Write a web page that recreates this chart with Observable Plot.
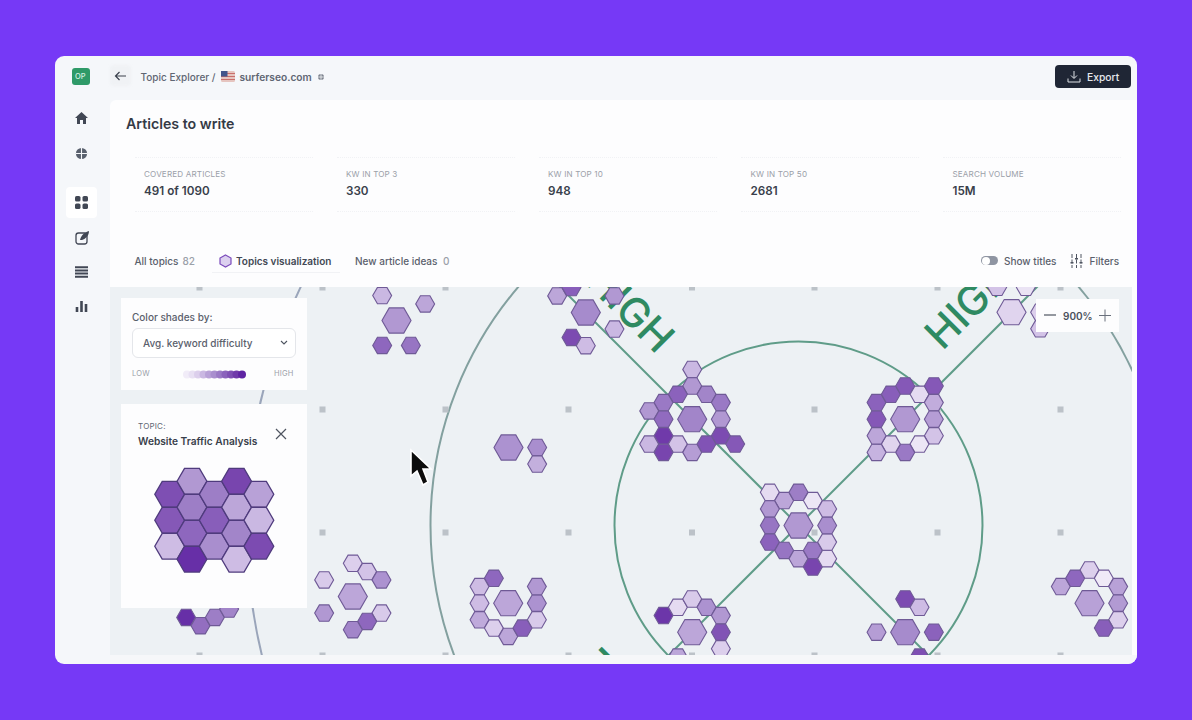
<!DOCTYPE html>
<html><head><meta charset="utf-8">
<script src="https://cdn.jsdelivr.net/npm/d3@7"></script>
<script src="https://cdn.jsdelivr.net/npm/@observablehq/plot@0.6"></script>
<style>
html,body{margin:0;padding:0;width:1192px;height:720px;overflow:hidden;background:#7639f6;font-family:Inter,sans-serif;color:#343a46}
.abs{position:absolute;white-space:nowrap}
svg{display:block}
</style></head><body>
<div id="root"></div>
<script>
// ---------- data ----------
const statNames = ["COVERED ARTICLES","KW IN TOP 3","KW IN TOP 10","KW IN TOP 50","SEARCH VOLUME"];
const statValues = ["491 of 1090","330","948","2681","15M"];
const gridX = [-599,-476,-353,-230,-106.5,16,139,262];
const gridY = [-238,-116,7,130];
const ringRadius = [1,2,3];
const spokeEnds = [[-320,-320],[320,-320],[-320,320],[320,320]];
const highLabels = [[-169,-216,45],[171,-220,-45],[-219,167,-45]];

const hubNames = ["A","B","C","D","E","F","G","H","I","J","K","L","M"];
const hubX = [-106.3,106.7,0,-106.3,-290.3,291,106.7,-290,-402,-445.7,-598,-212.7,213];
const hubY = [-106.3,-106.3,0,106.7,77.7,77.7,106.7,-78,-205,71,67,-213,-213.3];
const hubDifficulty = [55,45,45,38,38,40,52,48,45,38,50,52,18];
// each member: column offset, half-row offset, avg. keyword difficulty
const memberA = [[0,-6,30],[0,-4,45],[-1,-3,70],[1,-3,55],[-2,-2,60],[2,-2,60],[-3,-1,45],[-2,0,66],[2,0,45],[-2,2,90],[2,2,82],[-3,3,30],[-1,3,25],[1,3,78],[3,3,75],[-2,4,85],[0,4,42]];
const memberB = [[-2,-2,70],[-1,-3,72],[0,-4,75],[1,-3,15],[2,-4,75],[2,-2,35],[2,0,42],[2,2,25],[1,3,8],[0,4,60],[-1,3,18],[-2,4,32],[-2,2,38],[-2,0,75]];
const memberC = [[-2,-4,15],[-1,-3,38],[0,-4,58],[1,-3,8],[2,-2,28],[-2,-2,45],[-2,0,62],[-2,2,70],[-1,3,62],[0,4,38],[1,3,60],[1,5,85],[2,4,15],[2,2,22],[2,0,50]];
const memberD = [[-2,-2,92],[-1,-3,15],[0,-4,22],[1,-3,48],[2,-2,45],[2,0,78],[2,2,20],[-1,3,38],[2,4,22]];
const memberE = [[-1,-3,68],[-2,-2,28],[-2,0,28],[-2,2,36],[-1,3,20],[0,4,38],[1,3,72],[2,2,22],[2,0,48],[2,-2,45]];
const memberF = [[-2,-2,38],[-1,-3,68],[0,-4,20],[1,-3,5],[2,-2,40],[2,0,44],[2,2,20],[1,3,72]];
const memberG = [[0,-4,82],[1,-3,28],[-2,0,42],[2,0,70],[1,3,80]];
const memberH = [[2,0,50],[2,2,34]];
const memberI = [[-1,-3,30],[2,-2,38],[-1,3,68],[1,3,62]];
const memberJ = [[0,-4,20],[1,-3,25],[2,-2,48],[-2,-2,22],[-2,2,45],[2,2,22],[1,3,68],[0,4,55]];
const memberK = [[-1,3,95],[0,4,65],[1,3,58],[2,2,55]];
const memberL = [[-2,-2,38],[-1,-3,72],[2,-2,45],[2,2,30],[-1,3,82],[0,4,28]];
const memberM = [[-1,-3,25],[1,-3,10],[2,0,20],[2,2,25]];
const hubMembers = [memberA,memberB,memberC,memberD,memberE,memberF,memberG,memberH,memberI,memberJ,memberK,memberL,memberM];

// selected topic: column, half-row, difficulty
const topicCells = [[-2,-2,80],[-2,0,75],[-2,2,28],[-1,-3,45],[-1,-1,58],[-1,1,68],[-1,3,95],[0,-2,58],[0,0,72],[0,2,50],[1,-3,85],[1,-1,38],[1,1,55],[1,3,28],[2,-2,40],[2,0,30],[2,2,82]];
const legendSteps = [4,12,20,30,40,50,60,70,80,90,100];
const legendIndex = [0,1,2,3,4,5,6,7,8,9,10];

const diffDomain = [0,15,25,40,55,70,85,100];
const diffRange = ["#f5f2fa","#e5dbf1","#d3c3e7","#b8a1d7","#a285c9","#8b62bc","#7845ae","#5f24a3"];
const colorScale = {type:"linear",domain:diffDomain,range:diffRange};

const stepX = 14.33, stepY = 8.3;
const hubs = hubNames.map((n,i)=>({name:n,x:hubX[i],y:hubY[i],d:hubDifficulty[i]}));
const members = hubNames.flatMap((n,i)=>hubMembers[i].map(([q,r,d])=>({x:hubX[i]+q*stepX,y:hubY[i]+r*stepY,d})));
const grid = gridX.flatMap(x=>gridY.map(y=>({x,y})));
const spokes = spokeEnds.map(([x,y])=>({x,y}));
const rings = ringRadius.map((k,i)=>({k,stroke:["#5f9c88","#83a09f","#9aa5ba"][i]}));

// ---------- page chrome ----------
const root = document.getElementById("root");
function box(l,t,w,h,css,parent){const e=document.createElement("div");e.className="abs";e.style.cssText+=`left:${l}px;top:${t}px;width:${w}px;height:${h}px;${css||""}`;(parent||root).appendChild(e);return e;}
function txt(s,l,cy,size,weight,color,css){const e=document.createElement("div");e.className="abs";e.textContent=s;e.style.cssText+=`left:${l}px;top:${cy-10}px;height:20px;line-height:20px;font-size:${size}px;font-weight:${weight};color:${color};${css||""}`;root.appendChild(e);return e;}
function icon(l,t,w,h,inner){const e=document.createElement("div");e.className="abs";e.style.cssText+=`left:${l}px;top:${t}px;width:${w}px;height:${h}px;z-index:5`;e.innerHTML=`<svg width="${w}" height="${h}" viewBox="0 0 ${w} ${h}">${inner}</svg>`;root.appendChild(e);return e;}

box(55,56,1082,608,"background:#f5f7fa;border-radius:9px;");
box(110,100,1027,555,"background:#fdfdfe;border-top-left-radius:6px;");
box(110,655,1027,9,"background:#f6f7f9;border-bottom-right-radius:9px");

// sidebar
box(72,68,18,17,"background:#2f9a68;border-radius:3px;");
txt("OP",75,76.5,7.5,500,"#d6f0e3");
icon(74,111,15,14,'<path d="M7.5 1 L14 7 H12 V13 H9 V9 H6 V13 H3 V7 H1Z" fill="#414754"/>');
icon(74,146,15,15,'<circle cx="7.5" cy="7.5" r="5.6" fill="#59606d"/><path d="M2 7.5H13M7.5 2V13" stroke="#f5f7f9" stroke-width="1.1"/>');
box(66,187,31,31,"background:#fff;border-radius:4px;");
icon(75,196,13,13,'<rect x="0" y="0" width="5.5" height="5.5" rx="1.6" fill="#414754"/><rect x="7.5" y="0" width="5.5" height="5.5" rx="1.6" fill="#414754"/><rect x="0" y="7.5" width="5.5" height="5.5" rx="1.6" fill="#414754"/><rect x="7.5" y="7.5" width="5.5" height="5.5" rx="1.6" fill="#414754"/>');
icon(75,230,14,15,'<rect x="1" y="3" width="11" height="11" rx="2.5" fill="none" stroke="#414754" stroke-width="1.3"/><path d="M5 10 C6 5 10 2 14 1 C14 6 10 9 7 10Z" fill="#414754"/>');
icon(75,266,13,12,'<path d="M0 1.2H13M0 4.4H13M0 7.6H13M0 10.8H13" stroke="#414754" stroke-width="2"/>');
icon(75,300,13,12,'<path d="M2 12V7M6.5 12V1M11 12V4" stroke="#414754" stroke-width="2.6"/>');

// top bar
box(110,65,21,21,"background:#f0f2f5;border-radius:4px;filter:blur(1px)");
icon(114,71,13,10,'<path d="M12 5H1.5M5.5 1 L1.5 5 L5.5 9" fill="none" stroke="#3a404c" stroke-width="1.2"/>');
txt("Topic Explorer /",140.5,76.5,10,500,"#5f6673");
icon(221,71,14,11,'<rect width="14" height="11" rx="1.5" fill="#e6c5c0"/><path d="M0 2.5H14M0 5.5H14M0 8.5H14" stroke="#c96f6b" stroke-width="1"/><rect width="6.5" height="5.5" fill="#41558c"/>');
txt("surferseo.com",239.5,76.5,10.2,600,"#5f6673");
icon(317,73,8,8,'<circle cx="4" cy="4" r="3" fill="#7d838e"/><path d="M0.5 4H7.5M4 .5V7.5" stroke="#f5f7f9" stroke-width=".8"/>');
box(1055,65,76,23,"background:#1f2635;border-radius:4px;");
icon(1067,70,14,13,'<path d="M7 1V8M4 5.5 L7 8.5 L10 5.5M1 8.5V12H13V8.5" fill="none" stroke="#dfe2e7" stroke-width="1"/>');
txt("Export",1087,76.5,10.3,500,"#e7e9ed");

// header of content
txt("Articles to write",126,124,14.2,600,"#343a46");
const statX = [144,346,548,750.5,952.5];
statNames.forEach((n,i)=>{
  txt(n,statX[i],174,8.1,400,"#9ba0a9","letter-spacing:.15px");
  txt(statValues[i],statX[i],190.5,11.7,600,"#393f4b");
});
[[135,178],[337,178],[539,178],[741,178],[943,178]].forEach(([l,w])=>{
  box(l,157,w,0,"border-top:1px dotted #f1f2f5");
  box(l,211,w,0,"border-top:1px dotted #f1f2f5");
});

// tabs
txt("All topics",134.5,260.5,10,500,"#5a606c");
txt("82",182.5,260.5,10,500,"#9ba0a9");
icon(219,254,13,14,'<path d="M6.5 1 L12 4 V10 L6.5 13 L1 10 V4Z" fill="#dcd0ef" stroke="#7b4bbb" stroke-width="1.2"/>');
txt("Topics visualization",236,260.5,10,600,"#424854");
box(212,272,128,0,"border-top:1px solid #f1f2f5");
txt("New article ideas",355,260.5,10,500,"#5a606c");
txt("0",443,260.5,10,500,"#9ba0a9");
box(981,256,17,9,"background:#8f95a2;border-radius:5px;");
box(981.5,256.5,8,8,"background:#fff;border-radius:50%;");
txt("Show titles",1004,260.5,10,500,"#5a606c");
icon(1070,254,13,14,'<path d="M2 0V14M6.5 0V14M11 0V14" stroke="#4e5460" stroke-width="1" stroke-dasharray="4 1.5"/><rect x="0.5" y="8" width="3" height="1.5" fill="#4e5460"/><rect x="5" y="4" width="3" height="1.5" fill="#4e5460"/><rect x="9.5" y="8" width="3" height="1.5" fill="#4e5460"/>');
txt("Filters",1089.5,260.5,10,500,"#5a606c");

// ---------- the map ----------
const map = Plot.plot({
  width:1022,height:368,margin:0,
  x:{domain:[-688,334],axis:null},
  y:{domain:[130,-238],axis:null},
  r:{type:"linear",domain:[0,3],range:[0,552]},
  color:colorScale,
  style:{background:"#edf1f4",overflow:"hidden"},
  marks:[
    Plot.dot(rings,{x:()=>0,y:()=>0,r:"k",stroke:"stroke",strokeWidth:2,fill:"none",clip:true}),
    Plot.link(spokes,{x1:()=>0,y1:()=>0,x2:"x",y2:"y",stroke:"#5f9c88",strokeWidth:2,clip:true}),
    Plot.dot(grid,{x:"x",y:"y",symbol:"square",r:3.4,fill:"#bcc2c8",clip:true}),
    Plot.text(highLabels,{x:d=>d[0],y:d=>d[1],rotate:d=>d[2],text:()=>"HIGH",fontSize:41,fontWeight:500,fontFamily:"Inter",fill:"#2f8a62",clip:true}),
    Plot.dot(hubs,{x:"x",y:"y",symbol:"hexagon",rotate:30,r:12.6,fill:"d",stroke:"#6f5a96",strokeWidth:1.1,clip:true}),
    Plot.dot(members,{x:"x",y:"y",symbol:"hexagon",rotate:30,r:8.2,fill:"d",stroke:"#6f5a96",strokeWidth:1.1,clip:true})
  ]
});
const mapWrap = box(110,287,1022,368,"");
mapWrap.appendChild(map);

// zoom control
box(1036,299,83,33,"background:#fdfdfe;");
icon(1044,310,13,10,'<path d="M0 5H12" stroke="#4e5460" stroke-width="1.2"/>');
txt("900%",1063,315.5,10,600,"#4a505c");
icon(1099,309,13,13,'<path d="M0 6.5H12M6 .5V12.5" stroke="#6a707c" stroke-width="1"/>');

// colour panel
box(121,298,186,92,"background:#fdfdfe;");
txt("Color shades by:",132,316.5,10,500,"#5a606c");
box(132,328,162,28,"border:1px solid #e4e6ea;border-radius:6px;background:#fff");
txt("Avg. keyword difficulty",143,343,10,500,"#5a606c");
icon(280,340,8,6,'<path d="M1 1 L4 4 L7 1" fill="none" stroke="#4e5460" stroke-width="1.1"/>');
txt("LOW",132,374,7.5,400,"#9ba0a9","letter-spacing:.2px");
txt("HIGH",274,374,7.5,400,"#9ba0a9","letter-spacing:.2px");
const legendPlot = Plot.plot({
  width:66,height:16,margin:0,
  x:{domain:[-1,11],axis:null},y:{domain:[0,1],axis:null},
  color:colorScale,style:{background:"transparent"},
  marks:[Plot.dot(legendIndex,{x:d=>d,y:()=>0.5,r:4,fill:d=>legendSteps[d]})]
});
box(181,366,66,16,"").appendChild(legendPlot);

// topic panel
box(121,404,186,204,"background:#fdfdfe;");
txt("TOPIC:",138,425.5,8,400,"#5f6673","letter-spacing:.2px");
txt("Website Traffic Analysis",138,441,10.2,600,"#393f4b");
icon(275,428,12,12,'<path d="M1 1 L11 11 M11 1 L1 11" stroke="#4e5460" stroke-width="1.2"/>');
const topicPlot = Plot.plot({
  width:186,height:204,margin:0,
  x:{domain:[-4.16,4.18],axis:null},
  y:{domain:[6.79,-8.9],axis:null},
  color:colorScale,style:{background:"transparent"},
  marks:[Plot.dot(topicCells,{x:d=>d[0],y:d=>d[1],fill:d=>d[2],symbol:"hexagon",rotate:30,r:12.9,stroke:"#4f3b7d",strokeWidth:1.3})]
});
box(121,404,186,204,"").appendChild(topicPlot);

// mouse pointer
icon(407,447,28,42,'<path d="M4 3 V29 L10 24 L16 38 L21 35 L16 22 L24 22Z" fill="#0c0c0c" stroke="#fff" stroke-width="1.6"/>');
</script>
</body></html>
